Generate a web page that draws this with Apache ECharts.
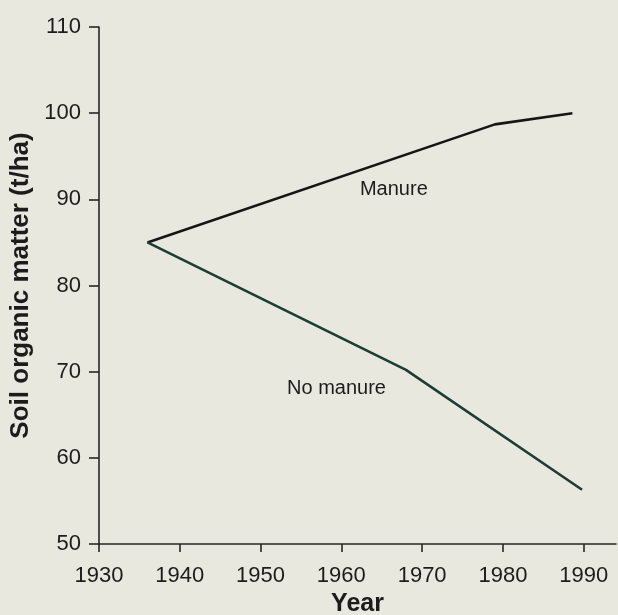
<!DOCTYPE html>
<html>
<head>
<meta charset="utf-8">
<script src="https://cdn.jsdelivr.net/npm/echarts@6/dist/echarts.min.js"></script>
<style>
  html, body { margin: 0; padding: 0; background: #e8e8de; }
  #chart { width: 618px; height: 615px; }
</style>
</head>
<body>
<div id="chart"></div>
<script>
// Soil organic matter under two treatments, by year
const manureYears = [1936, 1979, 1988.6];
const manureValues = [85, 98.7, 100];
const noManureYears = [1936, 1968, 1989.8];
const noManureValues = [85, 70.2, 56.3];
const xTickLabels = [1930, 1940, 1950, 1960, 1970, 1980, 1990];
const yTicks = [50, 60, 70, 80, 90, 100, 110];

const FONT = '"Liberation Sans", Arial, Helvetica, sans-serif';
const INK = '#1c1c1c';
const AXIS = '#262626';

const toPairs = (xs, ys) => xs.map((x, i) => [x, ys[i]]);

const chart = echarts.init(document.getElementById('chart'), null, { renderer: 'canvas' });

chart.setOption({
  backgroundColor: '#e8e8de',
  animation: false,
  grid: { left: 99, right: 2, top: 27, bottom: 71, containLabel: false, outerBoundsMode: 'none' },
  xAxis: {
    type: 'value',
    min: 1930,
    max: 1994,
    interval: 10,
    name: 'Year',
    nameLocation: 'middle',
    nameGap: 46,
    nameTextStyle: { fontFamily: FONT, fontSize: 25, fontWeight: 'bold', color: INK },
    axisLine: { show: true, lineStyle: { color: AXIS, width: 1.6 } },
    axisTick: { show: true, length: 8, customValues: xTickLabels, lineStyle: { color: AXIS, width: 1.6 } },
    axisLabel: {
      customValues: xTickLabels,
      margin: 21,
      formatter: v => String(v),
      fontFamily: FONT, fontSize: 22, color: INK
    },
    splitLine: { show: false }
  },
  yAxis: {
    type: 'value',
    min: 50,
    max: 110,
    interval: 10,
    name: 'Soil organic matter (t/ha)',
    nameLocation: 'middle',
    nameGap: 54,
    nameTextStyle: { fontFamily: FONT, fontSize: 26, fontWeight: 'bold', color: INK },
    axisLine: { show: true, lineStyle: { color: AXIS, width: 1.6 } },
    axisTick: { show: true, length: 10, customValues: yTicks, lineStyle: { color: AXIS, width: 1.6 } },
    axisLabel: { customValues: yTicks, margin: 18, fontFamily: FONT, fontSize: 22, color: INK },
    splitLine: { show: false }
  },
  series: [
    {
      name: 'Manure',
      type: 'line',
      data: toPairs(manureYears, manureValues),
      symbol: 'none',
      lineStyle: { color: '#161616', width: 2.6 },
      markPoint: {
        symbol: 'circle',
        symbolSize: 0,
        label: { show: true, formatter: 'Manure', position: 'inside', fontFamily: FONT, fontSize: 20, color: INK },
        data: [{ coord: [1966.5, 91.1] }]
      }
    },
    {
      name: 'No manure',
      type: 'line',
      data: toPairs(noManureYears, noManureValues),
      symbol: 'none',
      lineStyle: { color: '#1d3d35', width: 2.6 },
      markPoint: {
        symbol: 'circle',
        symbolSize: 0,
        label: { show: true, formatter: 'No manure', position: 'inside', fontFamily: FONT, fontSize: 20, color: INK },
        data: [{ coord: [1959.4, 68.0] }]
      }
    }
  ]
});
</script>
</body>
</html>
